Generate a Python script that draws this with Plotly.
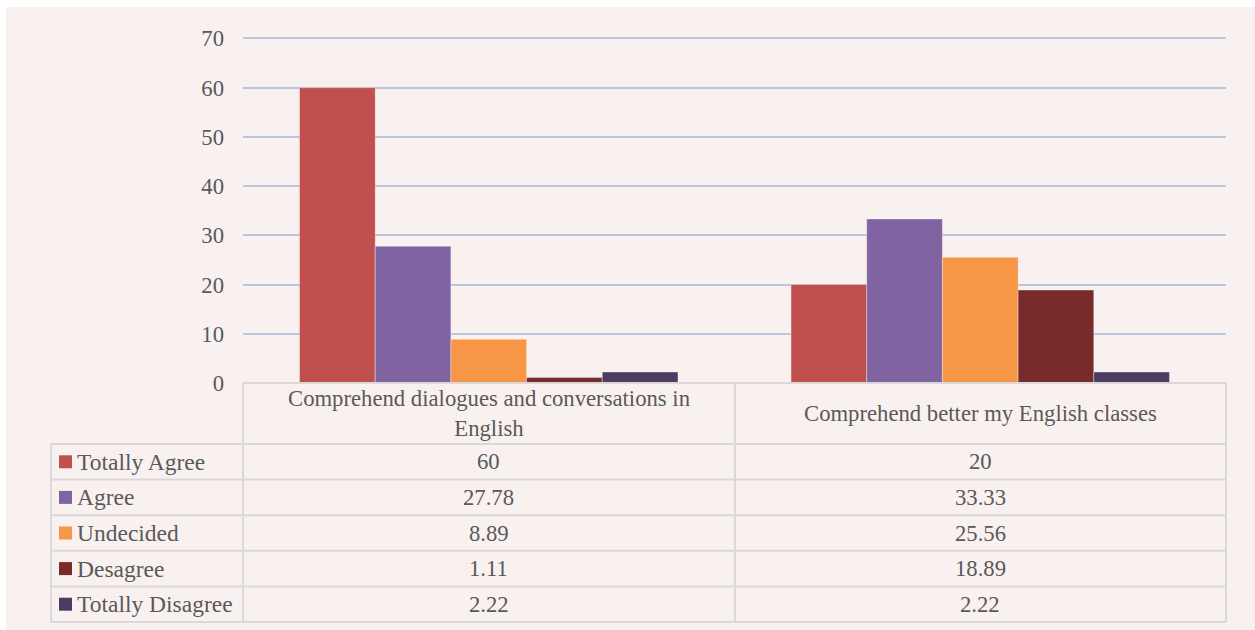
import plotly.graph_objects as go

# Survey results (% of respondents)
categories = [
    "Comprehend dialogues and conversations in English",
    "Comprehend better my English classes",
]
header_labels = [
    "Comprehend dialogues and conversations in<br>English",
    "Comprehend better my English classes",
]
series_names = ["Totally Agree", "Agree", "Undecided", "Desagree", "Totally Disagree"]
totally_agree = [60, 20]
agree = [27.78, 33.33]
undecided = [8.89, 25.56]
desagree = [1.11, 18.89]
totally_disagree = [2.22, 2.22]
series_values = [totally_agree, agree, undecided, desagree, totally_disagree]
series_labels = [["60", "20"], ["27.78", "33.33"], ["8.89", "25.56"],
                 ["1.11", "18.89"], ["2.22", "2.22"]]
colors = ["#C0504D", "#8064A2", "#F79646", "#772C2A", "#4D3B62"]
y_ticks = [0, 10, 20, 30, 40, 50, 60, 70]

W, H = 1255, 630
FONT = "Liberation Serif"
TXT = "#595959"
BORDER = "#D9D9D9"
BG = "#F9F1F0"


def px(x):
    return x / W


def py(y):
    return 1 - y / H


fig = go.Figure()
for name, vals, col in zip(series_names, series_values, colors):
    fig.add_trace(go.Bar(
        x=categories, y=vals, name=name,
        marker=dict(color=col, line=dict(color="rgba(255,255,255,0.35)", width=1)),
        showlegend=False,
    ))

# table geometry (pixels)
left_x, axis_x, right_x = 51, 243, 1226
top_y, header_bottom = 383, 444
row_h = 35.6
row_edges = [header_bottom + i * row_h for i in range(len(series_names) + 1)]

shapes = [
    # white strips along the top and left edges
    dict(type="rect", xref="paper", yref="paper", x0=0, x1=1, y0=py(7), y1=1,
         fillcolor="white", line=dict(width=0), layer="below"),
    dict(type="rect", xref="paper", yref="paper", x0=0, x1=px(6), y0=0, y1=1,
         fillcolor="white", line=dict(width=0), layer="below"),
]


def hline(x0, x1, y):
    shapes.append(dict(type="line", xref="paper", yref="paper",
                       x0=px(x0), x1=px(x1), y0=py(y), y1=py(y),
                       line=dict(color=BORDER, width=2), layer="above"))


def vline(x, y0, y1):
    shapes.append(dict(type="line", xref="paper", yref="paper",
                       x0=px(x), x1=px(x), y0=py(y0), y1=py(y1),
                       line=dict(color=BORDER, width=2), layer="above"))


hline(axis_x, right_x, top_y)
for y in row_edges:
    hline(left_x, right_x, y)
vline(left_x, row_edges[0], row_edges[-1])
vline(axis_x, top_y, row_edges[-1])
vline(735, top_y, row_edges[-1])
vline(right_x, top_y, row_edges[-1])

annotations = []
# column headers
for cat, lab in zip(categories, header_labels):
    annotations.append(dict(x=cat, xref="x", y=py((top_y + header_bottom) / 2), yref="paper",
                            text=lab, showarrow=False, yanchor="middle",
                            font=dict(family=FONT, size=22.7, color=TXT)))

# series rows: legend key, name and values
for i, (name, labs, col) in enumerate(zip(series_names, series_labels, colors)):
    yc = (row_edges[i] + row_edges[i + 1]) / 2
    shapes.append(dict(type="rect", xref="paper", yref="paper",
                       x0=px(59), x1=px(72), y0=py(yc + 6.5), y1=py(yc - 6.5),
                       fillcolor=col, line=dict(width=0)))
    annotations.append(dict(x=px(75), xref="paper", y=py(yc), yref="paper",
                            text=name, showarrow=False, xanchor="left", yanchor="middle",
                            font=dict(family=FONT, size=23.5, color=TXT)))
    for cat, lab in zip(categories, labs):
        annotations.append(dict(x=cat, xref="x", y=py(yc), yref="paper",
                                text=lab, showarrow=False, yanchor="middle",
                                font=dict(family=FONT, size=22.7, color=TXT)))

fig.update_layout(
    width=W, height=H,
    margin=dict(l=0, r=0, t=0, b=0, pad=0, autoexpand=False),
    paper_bgcolor=BG,
    plot_bgcolor="rgba(0,0,0,0)",
    font=dict(family=FONT, color=TXT),
    barmode="group",
    bargap=0.23,
    bargroupgap=0,
    xaxis=dict(domain=[px(axis_x), px(right_x)], showticklabels=False, automargin=False,
               showgrid=False, zeroline=False, showline=False, ticks=""),
    yaxis=dict(domain=[py(top_y), py(37)], range=[0, 70.3], tickvals=y_ticks,
               automargin=False,
               showgrid=True, gridcolor="#BAC6DC", gridwidth=1.5,
               zeroline=False, showline=False, ticks="", ticklabelstandoff=18,
               tickfont=dict(family=FONT, size=22.7, color=TXT)),
    shapes=shapes,
    annotations=annotations,
)

fig.write_html("out.html")
